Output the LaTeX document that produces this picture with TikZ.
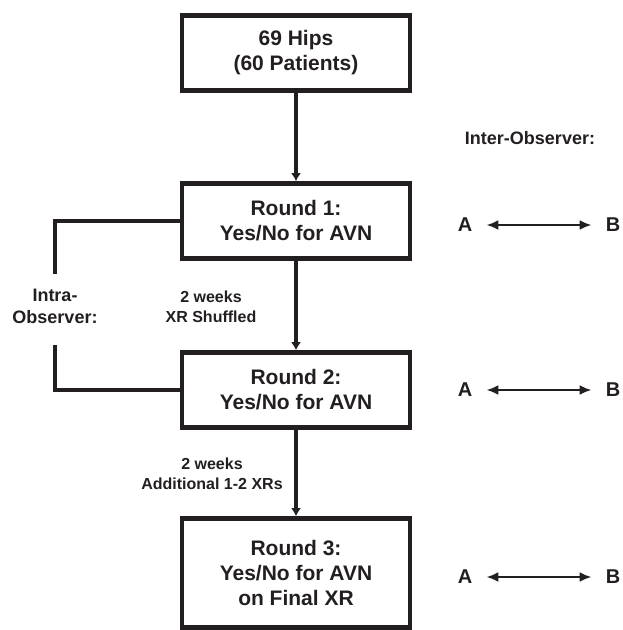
\documentclass[tikz,border=0pt]{standalone}
\usepackage{fontspec}
\setmainfont{Liberation Sans}
\usetikzlibrary{arrows.meta}
\definecolor{ink}{HTML}{231F20}
\tikzset{
  box/.style={draw=ink, line width=4.6pt, minimum width=228pt, minimum height=75pt,
    align=center, text=ink, font=\bfseries\fontsize{21}{25}\selectfont},
  link/.style={draw=ink, line width=4.6pt},
  step arrow/.style={link, -{Latex[length=8pt,width=10pt]}},
  note/.style={align=center, text=ink, font=\bfseries\fontsize{16}{19.5}\selectfont},
  side/.style={align=center, text=ink, font=\bfseries\fontsize{18}{22}\selectfont},
  obs/.style={text=ink, inner sep=0pt, inner xsep=14pt, font=\bfseries\fontsize{20}{24}\selectfont},
}
\begin{document}
\begin{tikzpicture}[x=1pt, y=-1pt]
  \useasboundingbox (0,0) rectangle (622,630);
  % flow of rounds
  \node[box] (hips) at (296,53) {69 Hips\\(60 Patients)};
  \node[box] (r1) at (296,221) {Round 1:\\Yes/No for AVN};
  \node[box] (r2) at (296,390) {Round 2:\\Yes/No for AVN};
  \node[box, minimum height=109pt] (r3) at (296,573) {Round 3:\\Yes/No for AVN\\on Final XR};
  \draw[step arrow] (hips) -- (r1);
  \draw[step arrow] (r1) -- (r2);
  \draw[step arrow] (r2) -- (r3);
  \node[note] (wk1) at (211,307) {2 weeks\\XR Shuffled};
  \node[note] (wk2) at (212,474) {2 weeks\\Additional 1-2 XRs};
  % intra-observer bracket
  \node[side] (intra) at (55,306) {Intra-\\Observer:};
  \coordinate (up) at (55,274);
  \coordinate (lo) at (55,345);
  \draw[link] (r1.west) -| (up);
  \draw[link] (r2.west) -| (lo);
  % inter-observer
  \node[side] (inter) at (530,138) {Inter-Observer:};
  \foreach \y/\n in {225/1, 390/2, 577/3} {
    \node[obs] (a\n) at (465,\y) {A};
    \node[obs] (b\n) at (613,\y) {B};
    \draw[draw=ink, line width=2.6pt, {Latex[length=12pt,width=10pt]}-{Latex[length=12pt,width=10pt]}] (a\n) -- (b\n);
  }
\end{tikzpicture}
\end{document}
